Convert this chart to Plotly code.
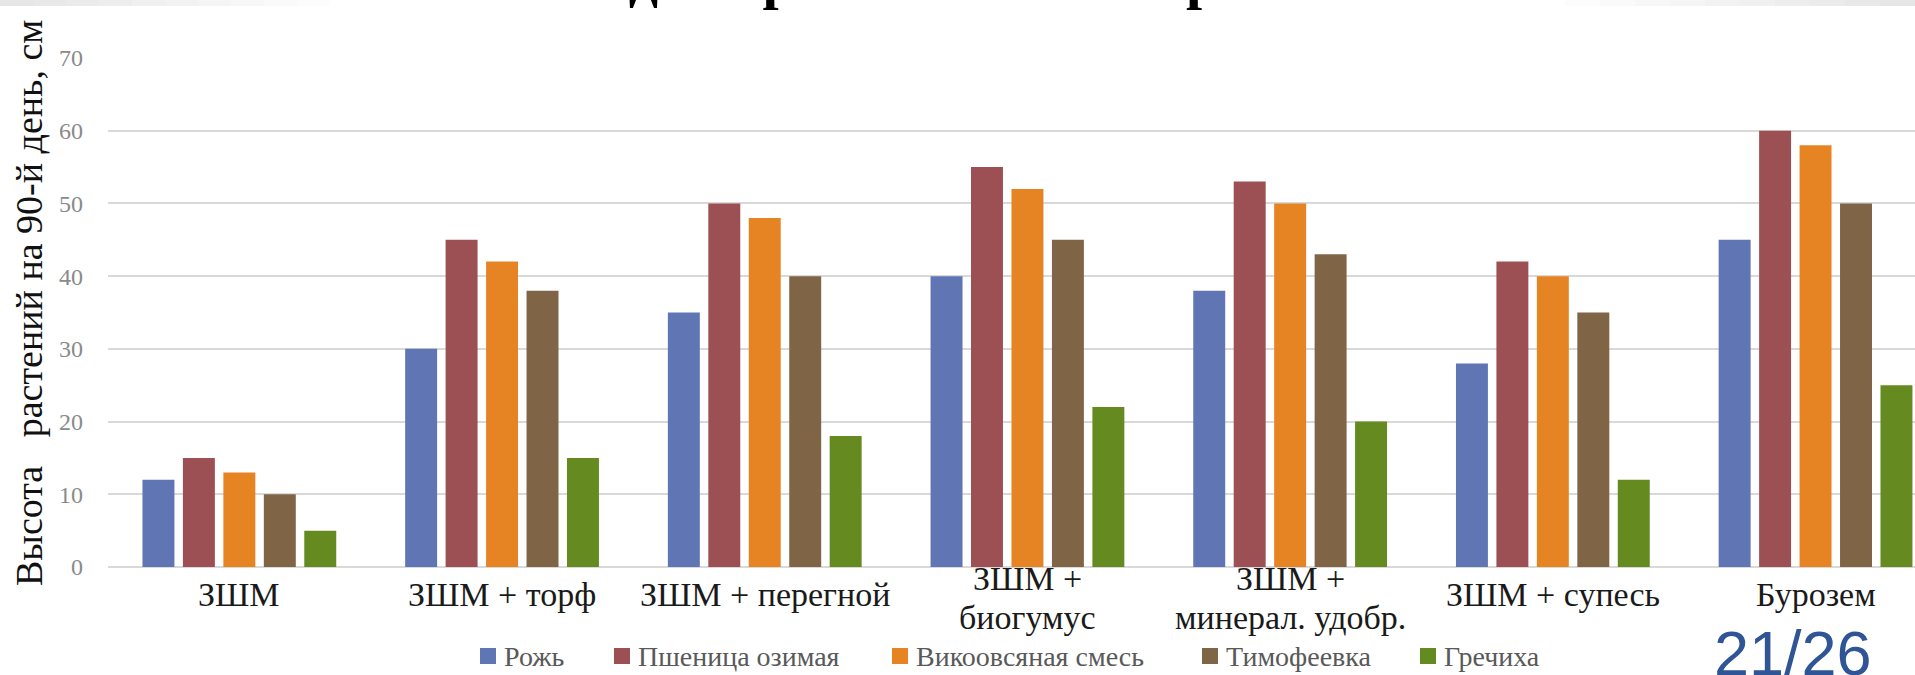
import plotly.graph_objects as go

# Substrate variants (category axis) and their wrapped label lines
categories = [
    "ЗШМ",
    "ЗШМ + торф",
    "ЗШМ + перегной",
    "ЗШМ + биогумус",
    "ЗШМ + минерал. удобр.",
    "ЗШМ + супесь",
    "Бурозем",
]
category_lines = [
    ["ЗШМ"],
    ["ЗШМ + торф"],
    ["ЗШМ + перегной"],
    ["ЗШМ +", "биогумус"],
    ["ЗШМ +", "минерал. удобр."],
    ["ЗШМ + супесь"],
    ["Бурозем"],
]

# Plant height on day 90, cm
rye = [12, 30, 35, 40, 38, 28, 45]
winter_wheat = [15, 45, 50, 55, 53, 42, 60]
vetch_oat = [13, 42, 48, 52, 50, 40, 58]
timothy = [10, 38, 40, 45, 43, 35, 50]
buckwheat = [5, 15, 18, 22, 20, 12, 25]

series_names = ["Рожь", "Пшеница озимая", "Викоовсяная смесь", "Тимофеевка", "Гречиха"]
series_values = [rye, winter_wheat, vetch_oat, timothy, buckwheat]
series_colors = ["#6075b4", "#9d5053", "#e68424", "#806446", "#648a20"]

y_ticks = [0, 10, 20, 30, 40, 50, 60, 70]

# page geometry (pixels)
FIG_W, FIG_H = 1915, 675
L, T, B = 108, 58, 108
W = FIG_W - L
H = FIG_H - T - B
CAT_PX = 262.7                      # width of one category slot
legend_x_px = [480, 614, 892, 1202, 1420]   # left edge of each legend swatch
LEGEND_Y = 656


def xp(px):
    return (px - L) / W


def yp(py):
    return (T + H - py) / H


fig = go.Figure()
for name, vals, col in zip(series_names, series_values, series_colors):
    fig.add_trace(go.Bar(
        x=categories, y=vals, name=name,
        marker=dict(color=col, line=dict(width=0)),
    ))

shapes = []
annotations = []

# faint grey band along the top edge of the slide
steps = 10
for i in range(steps):
    a = 1 - i / steps
    x0 = i * 33
    shapes.append(dict(type="rect", xref="paper", yref="paper",
                       x0=xp(x0), x1=xp(x0 + 33), y0=yp(6), y1=yp(0),
                       line=dict(width=0), fillcolor="#e6e6e6", opacity=a, layer="below"))
    x1 = FIG_W - i * 35
    shapes.append(dict(type="rect", xref="paper", yref="paper",
                       x0=xp(x1 - 35), x1=xp(x1), y0=yp(6), y1=yp(0),
                       line=dict(width=0), fillcolor="#e6e6e6", opacity=a, layer="below"))

# category labels, centred vertically in the label band like the slide chart
for cat, lines in zip(categories, category_lines):
    ys = [594] if len(lines) == 1 else [578, 617]
    for line, ypix in zip(lines, ys):
        annotations.append(dict(
            text=line, x=cat, xref="x", y=yp(ypix), yref="paper",
            xanchor="center", yanchor="middle", showarrow=False, borderpad=0,
            font=dict(family="Liberation Serif", size=34, color="#1a1a1a")))

# legend: coloured squares with series names
for name, col, lx in zip(series_names, series_colors, legend_x_px):
    shapes.append(dict(type="rect", xref="paper", yref="paper",
                       x0=xp(lx), x1=xp(lx + 16), y0=yp(LEGEND_Y + 8), y1=yp(LEGEND_Y - 8),
                       line=dict(width=0), fillcolor=col))
    annotations.append(dict(
        text=name, xref="paper", yref="paper", x=xp(lx + 22), y=yp(LEGEND_Y),
        xanchor="left", yanchor="middle", showarrow=False,
        font=dict(family="Liberation Serif", size=28, color="#595959")))

annotations += [
    # slide heading, mostly above the visible area
    dict(text="<b>Высота на 90-й день роста на всех вариантах</b>",
         xref="paper", yref="paper", x=xp(214), y=yp(13),
         xanchor="left", yanchor="bottom", showarrow=False,
         font=dict(family="Liberation Serif", size=58, color="#000000")),
    # y-axis title
    dict(text="Высота\u00a0\u00a0 растений на 90-й день, см",
         xref="paper", yref="paper", x=xp(29), y=yp(303),
         xanchor="center", yanchor="middle", textangle=-90, showarrow=False,
         font=dict(family="Liberation Serif", size=38, color="#111111")),
    # slide number
    dict(text="21/26", xref="paper", yref="paper", x=xp(1793), y=yp(616),
         xanchor="center", yanchor="top", showarrow=False,
         font=dict(family="Liberation Sans", size=63, color="#2f5597")),
]

fig.update_layout(
    template="none",
    width=FIG_W, height=FIG_H,
    margin=dict(l=L, r=0, t=T, b=B, pad=0),
    paper_bgcolor="white", plot_bgcolor="white",
    barmode="group", bargap=0.23, bargroupgap=0.21,
    showlegend=False,
    shapes=shapes,
    annotations=annotations,
    xaxis=dict(
        type="category", range=[-0.5, -0.5 + W / CAT_PX],
        showgrid=False, showline=False, zeroline=False, ticks="",
        showticklabels=False, automargin=False,
    ),
    yaxis=dict(
        range=[0, 70], tickvals=y_ticks,
        showgrid=True, gridcolor="#d9d9d9", gridwidth=2,
        zeroline=True, zerolinecolor="#d9d9d9", zerolinewidth=2,
        showline=False, ticks="",
        tickfont=dict(family="Liberation Serif", size=24, color="#8a8a8a"),
        automargin=False, ticklabelstandoff=24,
    ),
)

fig.write_html("out.html")
